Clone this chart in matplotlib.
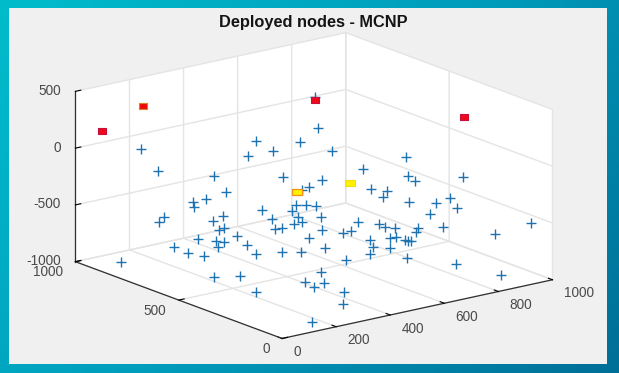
import matplotlib
matplotlib.use("Agg")
import matplotlib.pyplot as plt
from matplotlib.colors import LinearSegmentedColormap
from matplotlib.patches import Rectangle
from matplotlib.path import Path
import numpy as np

plt.rcParams['font.family'] = ['Liberation Sans', 'DejaVu Sans']
plt.rcParams['axes.unicode_minus'] = False

# sensor nodes
node_x = [223, 288, 496, 473, 389, 373, 420, 289, 265, 342, 378, 336, 318, 457, 645, 614, 704, 797, 614, 62,
          193, 188, 201, 256, 273, 280, 253, 323, 302, 279, 136, 178, 141, 923, 971, 870, 710, 650, 615, 819,
          857, 822, 970, 974, 877, 542, 574, 597, 509, 504, 569, 437, 495, 464, 416, 400, 656, 712, 714, 743,
          873, 864, 979, 954, 974, 978, 895, 882, 810, 787, 980, 979, 780, 874, 665, 737, 730, 723, 708, 688,
          602, 570, 523, 455, 621, 603, 650, 571, 467, 328, 379, 477, 363, 281, 284, 332, 352, 308, 146]
node_y = [975, 978, 977, 890, 940, 914, 917, 951, 943, 781, 780, 721, 721, 694, 969, 966, 963, 958, 797, 862,
          777, 702, 641, 742, 677, 647, 641, 640, 565, 491, 508, 437, 310, 967, 671, 747, 738, 718, 706, 643,
          614, 588, 659, 630, 534, 644, 633, 615, 616, 581, 558, 619, 549, 547, 544, 556, 493, 464, 437, 427,
          966, 973, 405, 502, 461, 432, 455, 375, 403, 382, 80, 249, 179, 82, 266, 341, 346, 352, 376, 378,
          456, 453, 489, 463, 389, 351, 329, 323, 401, 428, 403, 316, 285, 256, 215, 230, 163, 106, 46]
node_z = [-109, -338, -488, -559, -638, -656, -612, -726, -753, -673, -647, -691, -700, -576, -250, -365, -365,
          -329, -435, -938, -823, -823, -815, -762, -744, -735, -762, -700, -718, -735, -876, -841, -876, -479,
          -356, -462, -470, -488, -488, -541, -559, -576, -515, -541, -612, -541, -550, -559, -559, -585, -603,
          -594, -603, -603, -612, -620, -647, -673, -682, -700, -250, 24, -356, -638, -576, -647, -673, -726,
          -718, -726, -541, -753, -868, -947, -815, -753, -753, -744, -726, -726, -673, -673, -647, -665, -718,
          -744, -762, -771, -718, -700, -709, -771, -797, -823, -841, -841, -885, -929, -965]

# deployed relays
red_x = [68, 864, 982]
red_y = [962, 973, 403]
red_z = [139, -3, 174]
orange_x = [227]
orange_y = [972]
orange_z = [271]
yellow_a_x = [603]
yellow_a_y = [715]
yellow_a_z = [-506]
yellow_b_x = [789]
yellow_b_y = [705]
yellow_b_z = [-515]

x_ticks = [0, 200, 400, 600, 800, 1000]
y_ticks = [0, 500, 1000]
z_ticks = [-1000, -500, 0, 500]

fig = plt.figure(figsize=(6.19, 3.73), dpi=100)

# slide background and grey figure area
bg = fig.add_axes([0, 0, 1, 1], zorder=0)
gx, gy = np.meshgrid(np.linspace(0, 1, 200), np.linspace(0, 1, 120))
cmap = LinearSegmentedColormap.from_list("slide", ["#00bccb", "#009dbc", "#006f98"])
bg.imshow(0.65 * gx + 0.35 * gy, cmap=cmap, extent=(0, 619, 373, 0), aspect='auto')
bg.add_patch(Rectangle((9, 8), 598, 356, facecolor='#f0f0f0', edgecolor='none'))
bg.set_xlim(0, 619)
bg.set_ylim(373, 0)
bg.axis('off')

# axes square, nudged so the plot box lands where it is in the reference
side = 0.98
cx, cy = 309 / 619, 1 - 190.5 / 373
w = side * 373 / 619
ax = fig.add_axes([cx - w / 2, cy - side / 2, w, side], projection='3d', proj_type='ortho', zorder=1)
ax.view_init(elev=16.5, azim=-127.4)
ax.set_box_aspect((1, 1, 0.522), zoom=1.3625)
ax.patch.set_alpha(0)

# the squares are a bit wider than tall in the reference
box = Path([[-1, -0.72], [1, -0.72], [1, 0.72], [-1, 0.72], [-1, -0.72]], closed=True)

# clip_on off: the 3d axes square is narrower than the plot box
ax.plot(node_x, node_y, node_z, linestyle='none', marker='+', ms=7.5, mew=1, color='#1f72b0', clip_on=False)
ax.plot(red_x, red_y, red_z, linestyle='none', marker=box, ms=6, mfc='#ee0a1a', mec='#c8103c', mew=0.8, clip_on=False)
ax.plot(orange_x, orange_y, orange_z, linestyle='none', marker=box, ms=6, mfc='#ee0a0a', mec='#e08020', mew=0.8, clip_on=False)
ax.plot(yellow_a_x, yellow_a_y, yellow_a_z, linestyle='none', marker=box, ms=6.5, mfc='#fff200', mec='#f0901c', mew=0.9, clip_on=False)
ax.plot(yellow_b_x, yellow_b_y, yellow_b_z, linestyle='none', marker=box, ms=6.5, mfc='#fff200', mec='#f8dc10', mew=0.8, clip_on=False)

ax.set_xlim(0, 1000)
ax.set_ylim(0, 1000)
ax.set_zlim(-1000, 500)
ax.set_xticks(x_ticks)
ax.set_yticks(y_ticks)
ax.set_zticks(z_ticks)

for axis in (ax.xaxis, ax.yaxis, ax.zaxis):
    axis.set_pane_color((1, 1, 1, 1))
    axis.pane.set_edgecolor('none')
    axis.line.set_color('#303030')
    axis.line.set_linewidth(0.9)
    axis._axinfo['grid']['color'] = '#e4e4e4'
    axis._axinfo['grid']['linewidth'] = 1.0
    axis._axinfo['tick']['inward_factor'] = 0
    axis._axinfo['tick']['outward_factor'] = 0.25
    axis._axinfo['tick']['linewidth'] = {True: 0.8, False: 0.5}
    axis._axinfo['tick']['color'] = '#303030'

ax.tick_params(axis='x', labelsize=9.8, labelcolor='#4a4a4a', pad=-0.5)
ax.tick_params(axis='y', labelsize=9.8, labelcolor='#4a4a4a', pad=-1.7)
ax.tick_params(axis='z', labelsize=9.8, labelcolor='#4a4a4a', pad=-3.8)

for t in ax.xaxis.get_major_ticks():
    t.label1.set_ha('left')
    t.label1.set_va('center')
for t in ax.yaxis.get_major_ticks():
    t.label1.set_ha('right')
    t.label1.set_va('center')
for t in ax.zaxis.get_major_ticks():
    t.label1.set_ha('right')
    t.label1.set_va('center')

fig.text(313.5 / 619, 1 - 22 / 373, 'Deployed nodes - MCNP', fontsize=11.75, fontweight='bold',
         color='#151515', ha='center', va='center')

fig.savefig('out.png', dpi=100)
